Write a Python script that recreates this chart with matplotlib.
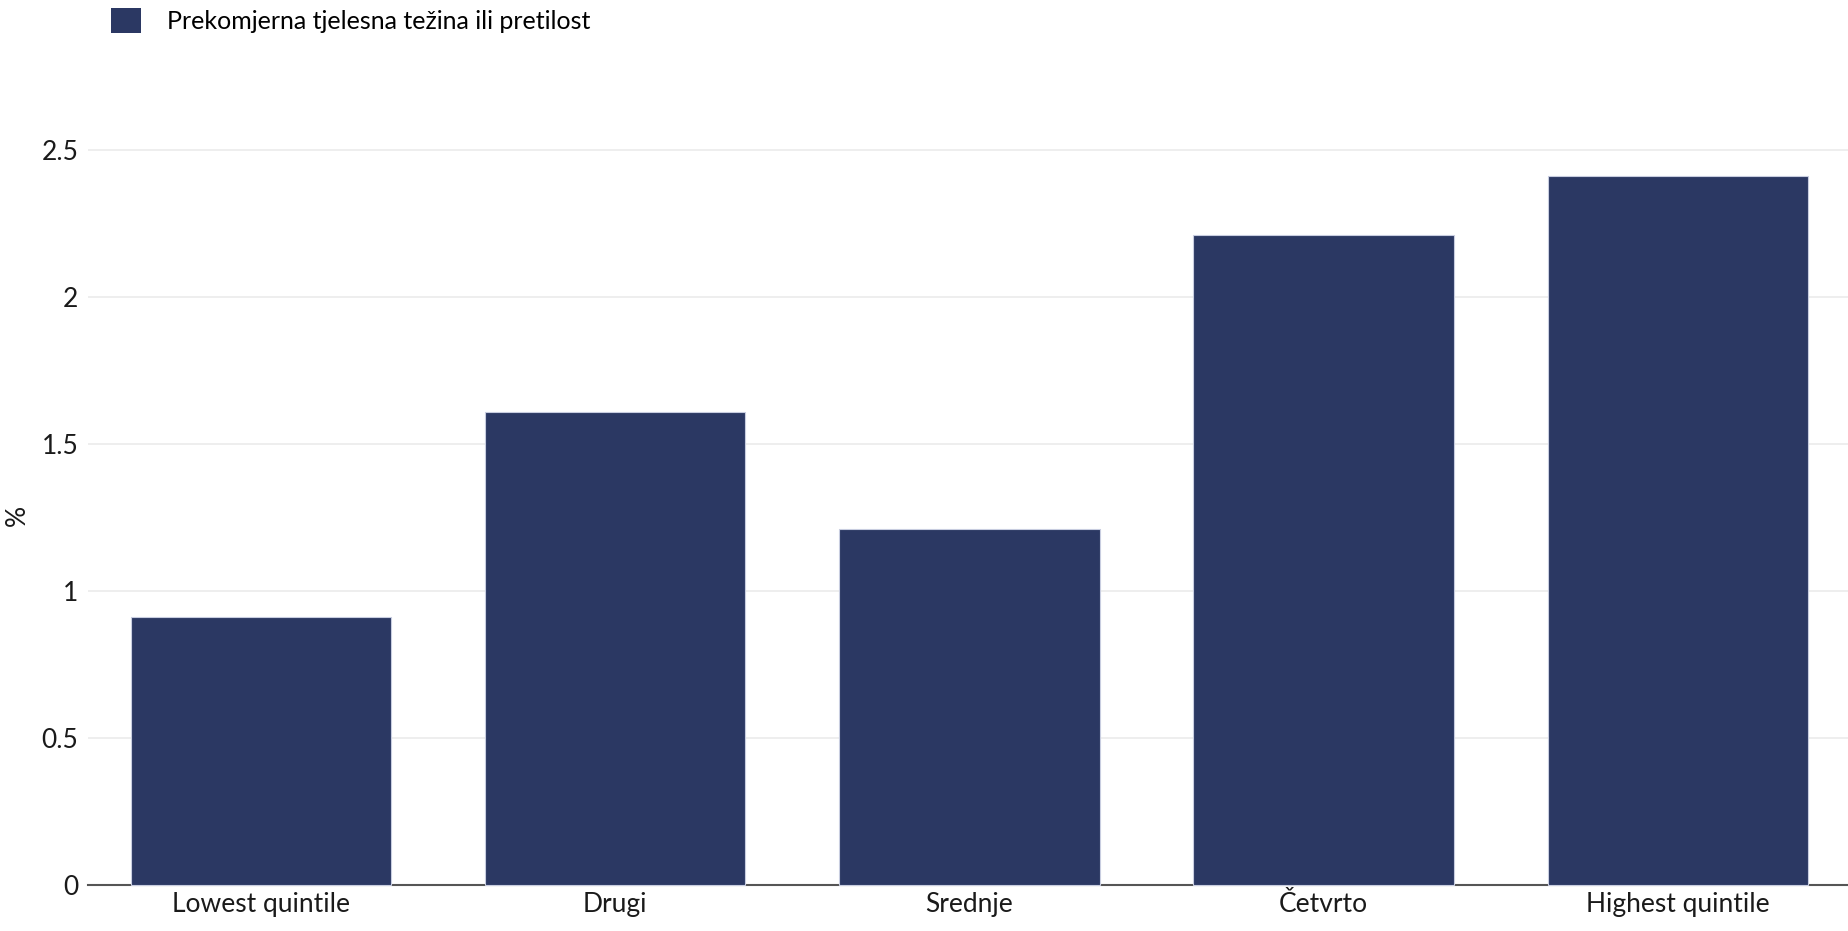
import matplotlib.pyplot as plt
from matplotlib.patches import Patch

categories = ['Lowest quintile', 'Drugi', 'Srednje', 'Četvrto', 'Highest quintile']
values = [0.91, 1.61, 1.21, 2.21, 2.41]
series_name = 'Prekomjerna tjelesna težina ili pretilost'
y_ticks = [0, 0.5, 1, 1.5, 2, 2.5]
y_tick_labels = ['0', '0.5', '1', '1.5', '2', '2.5']

bar_color = '#2b3863'
plt.rcParams['font.family'] = ['Lato', 'DejaVu Sans']

W, H = 1848, 931
fig = plt.figure(figsize=(W / 100, H / 100), dpi=100)

# plot area in pixels
left, right = 88, 1848
bottom, top = 885, 120.6
ax = fig.add_axes([left / W, 1 - bottom / H, (right - left) / W, (bottom - top) / H])

x = list(range(len(categories)))
ax.bar(x, values, width=0.735, color=bar_color, edgecolor='#c8cde0',
       linewidth=0.8, zorder=3, clip_on=False)

ax.set_xlim(-0.4875, 4.48)
ax.set_ylim(0, 2.6)
ax.set_yticks(y_ticks)
ax.set_yticklabels(y_tick_labels)
ax.set_xticks(x)
ax.set_xticklabels(categories)

# Housework
for s in ['top', 'right', 'left']:
    ax.spines[s].set_visible(False)
ax.spines['bottom'].set_color('#555555')
ax.spines['bottom'].set_linewidth(1.5)
ax.spines['bottom'].set_zorder(2)
ax.grid(axis='y', color='#ebebeb', linewidth=1.2, zorder=0)
ax.tick_params(axis='y', length=0, pad=7, labelsize=19, colors='#1a1a1a')
ax.tick_params(axis='x', length=0, pad=5, labelsize=19, colors='#1a1a1a')
ax.set_ylabel('%', fontsize=19, color='#1a1a1a')
ax.yaxis.set_label_coords(-(left - 30) / (right - left), (bottom - 515) / (bottom - top))

# legend
fig.legend(handles=[Patch(facecolor=bar_color, label=series_name)],
           loc='upper left', bbox_to_anchor=(111 / W, 1 - 8 / H), frameon=False,
           borderpad=0, borderaxespad=0,
           fontsize=18, handlelength=1.18, handleheight=1.18, handletextpad=1.05)

fig.savefig('out.png', dpi=100, facecolor='white')
